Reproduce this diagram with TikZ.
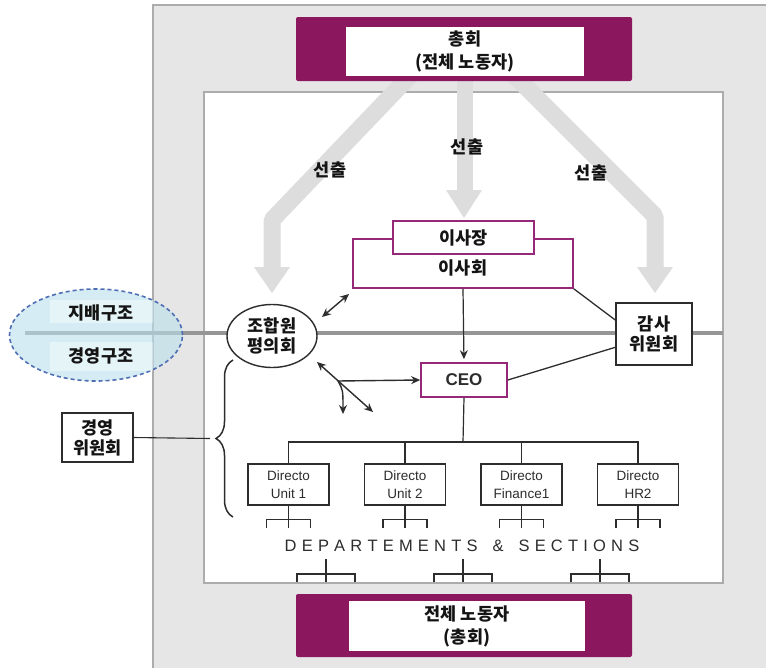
\documentclass[tikz,border=0pt]{standalone}
\usepackage{fontspec}
\setmainfont{Liberation Sans}
\newfontfamily\kr{Noto Sans CJK KR}
\usetikzlibrary{arrows.meta,decorations.pathreplacing,shapes.geometric,calc}
\definecolor{mag}{RGB}{139,23,94}
\definecolor{magline}{RGB}{150,40,120}
\definecolor{panelgrey}{RGB}{230,230,230}
\definecolor{bordergrey}{RGB}{172,172,172}
\definecolor{bandgrey}{RGB}{221,221,221}
\definecolor{hline}{RGB}{150,150,150}
\definecolor{ellfill}{RGB}{185,224,236}
\definecolor{elldash}{RGB}{80,110,180}
\definecolor{txt}{RGB}{20,20,20}
\definecolor{ln}{RGB}{45,45,45}
\tikzset{
  krtext/.style={font=\kr\bfseries\fontsize{17.5}{20}\selectfont, text=txt, align=center},
  bigtext/.style={font=\kr\bfseries\fontsize{17.5}{23}\selectfont, text=txt, align=center},
  magbox/.style={fill=mag, rounded corners=2pt, inner sep=0pt},
  whitebox/.style={fill=white, inner sep=0pt},
  purplebox/.style={draw=magline, line width=1.7pt, fill=white, inner sep=0pt},
  plainbox/.style={draw=ln, line width=1.2pt, fill=white, inner sep=0pt},
  dirbox/.style={draw=ln, line width=1.1pt, fill=white, inner sep=0pt, minimum width=81pt, minimum height=41pt,
     font=\fontsize{13.5}{18}\selectfont, text=ln, align=center},
  band/.style={draw=bandgrey, line width=17pt, line join=bevel},
  bandhead/.style={fill=bandgrey},
  orgline/.style={draw=ln, line width=1.2pt},
  arr/.style={draw=ln, line width=1.4pt, -{Stealth[length=9pt,width=8pt]}},
  darr/.style={draw=ln, line width=1.4pt, {Stealth[length=9pt,width=8pt]}-{Stealth[length=9pt,width=8pt]}},
}
\newcommand{\ls}{\hspace{5.2pt}}
\begin{document}
\begin{tikzpicture}[x=1pt,y=-1pt]
\useasboundingbox (0,0) rectangle (766,667);
% panels
\draw[fill=panelgrey, draw=bordergrey, line width=1.5pt] (153,5) rectangle (790,690);
\draw[fill=white, draw=bordergrey, line width=1.5pt] (204,92) rectangle (723,583);
% grey election arrows
\draw[band] (425,60) -- (405,81) -- (272,220) -- (272,268);
\fill[bandhead] (254,267) -- (290,267) -- (272,293) -- cycle;
\draw[band, line width=16pt] (465,60) -- (465,192);
\fill[bandhead] (446,190) -- (482,190) -- (464,218) -- cycle;
\draw[band] (500,61) -- (520,81) -- (655,216) -- (655,268);
\fill[bandhead] (637,267) -- (673,267) -- (655,293) -- cycle;
\node[krtext] (s1) at (330,170) {선출};
\node[krtext] (s2) at (467,147) {선출};
\node[krtext] (s3) at (591,173) {선출};
% top and bottom boxes
\node[magbox, minimum width=336pt, minimum height=64pt] (topouter) at (464,49) {};
\node[whitebox, minimum width=238pt, minimum height=49pt, bigtext] (top) at (465,51.5) {총회\\(전체 노동자)};
\node[magbox, minimum width=336pt, minimum height=63pt] (botouter) at (464,625.5) {};
\node[whitebox, minimum width=236pt, minimum height=50pt, bigtext] (bot) at (467,626) {전체 노동자\\(총회)};
% horizontal governance line
\coordinate (hl) at (25,333);
\coordinate (hr) at (723,333);
\draw[hline, line width=4pt] (hl) -- (hr);
% structure ellipse
\node[ellipse, minimum width=173pt, minimum height=92pt, fill=ellfill, fill opacity=0.6, draw=elldash, draw opacity=1,
  dash pattern=on 4pt off 3pt, line width=1.6pt] (struct) at (96,335) {};
\fill[white, opacity=0.4] (50,300) rectangle (153,323);
\fill[white, opacity=0.4] (50,342) rectangle (153,371);
\node[krtext] (gov) at (101,313) {지배구조};
\node[krtext] (mgmt) at (101,356) {경영구조};
% board
\node[purplebox, minimum width=220pt, minimum height=49pt] (board) at (463,263.5) {};
\node[krtext] (boardtxt) at (463,268) {이사회};
\node[purplebox, minimum width=141pt, minimum height=33pt, krtext] (chair) at (463.5,237.5) {이사장};
% union council
\node[ellipse, draw=ln, line width=1.4pt, fill=white, minimum width=90pt, minimum height=63pt, inner sep=0pt, krtext] (jo) at (272,336) {조합원\\평의회};
% audit
\node[plainbox, minimum width=76pt, minimum height=62pt, krtext] (gamsa) at (654,334) {감사\\위원회};
% CEO
\node[purplebox, minimum width=86pt, minimum height=34pt, font=\bfseries\fontsize{17}{20}\selectfont, text=ln] (ceo) at (464,380) {CEO};
% management committee
\node[plainbox, minimum width=71pt, minimum height=49pt, krtext] (mc) at (97.5,437.5) {경영\\위원회};
% arrows around council
\coordinate (a1) at (322,317);
\coordinate (a2) at (349,294);
\draw[darr] (a1) -- (a2);
\coordinate (d1) at (317,362);
\coordinate (d2) at (373,412);
\coordinate (br) at (338,381);
\coordinate (d3) at (343,414);
\draw[darr] (d1) -- (d2);
\draw[arr] (br) -- (ceo.west);
\draw[arr] (br) .. controls (343,390) .. (d3);
\draw[arr, line width=1.2pt, shorten >=3pt] (board.south) -- (ceo.north);
\draw[ln, line width=1.3pt] (board.south east) -- ($(gamsa.north west)!0.28!(gamsa.south west)$);
\draw[ln, line width=1.3pt] (ceo.east) -- ($(gamsa.north west)!0.71!(gamsa.south west)$);
% brace
\coordinate (bt) at (233,517);
\coordinate (bb) at (233,360);
\draw[ln, line width=1.5pt, decorate, decoration={brace, amplitude=17pt}] (bt) -- (bb);
\coordinate (btip) at (210,438.5);
\draw[ln, line width=1.1pt] (mc.east) -- (btip);
% directors
\node[dirbox] (u1) at (288.5,484.5) {Directo\\Unit 1};
\node[dirbox] (u2) at (405,484.5) {Directo\\Unit 2};
\node[dirbox] (u3) at (521.5,484.5) {Directo\\Finance1};
\node[dirbox] (u4) at (638,484.5) {Directo\\HR2};
\coordinate (bar) at (463,442);
\draw[orgline] (ceo.south) -- (bar);
\draw[orgline] (u1.north) -- (u1.north |- bar) -- (u4.north |- bar) -- (u4.north);
\draw[orgline] (u2.north) -- (u2.north |- bar);
\draw[orgline] (u3.north) -- (u3.north |- bar);
\foreach \u in {u1,u2,u3,u4}{
  \draw[orgline] (\u.south) -- ++(0,22);
  \draw[orgline] ($(\u.south)+(-22,22)$) -- ++(0,-8) -- ++(44,0) -- ++(0,8);
}
\node[font=\fontsize{16.5}{18}\selectfont, text=ln] (dept) at (462,546)
  {D\ls E\ls P\ls A\ls R\ls T\ls E\ls M\ls E\ls N\ls T\ls S\ls\ \ls\&\ls\ \ls S\ls E\ls C\ls T\ls I\ls O\ls N\ls S};
\foreach \c in {326,463,600}{
  \draw[orgline] (\c,559) -- (\c,583);
  \draw[orgline] (\c-29,583) -- (\c-29,574) -- (\c+29,574) -- (\c+29,583);
}
\draw[draw=bordergrey, line width=1.5pt] (204,583) -- (723,583);
\end{tikzpicture}
\end{document}
